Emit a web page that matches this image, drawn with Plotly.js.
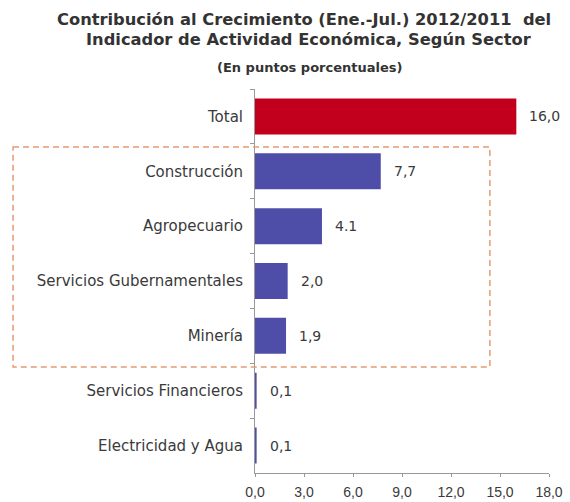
<!DOCTYPE html>
<html>
<head>
<meta charset="utf-8">
<script src="https://cdn.plot.ly/plotly-3.0.1.min.js"></script>
<style>html,body{margin:0;padding:0;background:#fff;}#chart{width:570px;height:502px;}</style>
</head>
<body>
<div id="chart"></div>
<script>
const categories = ["Total", "Construcción", "Agropecuario", "Servicios Gubernamentales", "Minería", "Servicios Financieros", "Electricidad y Agua"];
const values = [16.0, 7.7, 4.1, 2.0, 1.9, 0.1, 0.1];
const valueLabels = ["16,0", "7,7", "4.1", "2,0", "1,9", "0,1", "0,1"];
const barColors = ["#C2001E", "#4E4EA8", "#4E4EA8", "#4E4EA8", "#4E4EA8", "#4E4EA8", "#4E4EA8"];
const xTickVals = [0, 3, 6, 9, 12, 15, 18];
const xTickText = ["0,0", "3,0", "6,0", "9,0", "12,0", "15,0", "18,0"];
const titleLines = ["Contribución al Crecimiento (Ene.-Jul.) 2012/2011  del", "Indicador de Actividad Económica, Según Sector"];
const subtitle = "(En puntos porcentuales)";

const catFont = {family: "DejaVu Sans, sans-serif", size: 15, color: "#3a3a3a"};
const valFont = {family: "DejaVu Sans, sans-serif", size: 14, color: "#3a3a3a"};
const tickFont = {family: "Liberation Sans, Arial, sans-serif", size: 14, color: "#3a3a3a"};
const titleFont = {family: "DejaVu Sans, sans-serif", size: 16.3, color: "#333"};

const trace = {
  type: "bar",
  orientation: "h",
  y: categories,
  x: values,
  marker: {color: barColors},
  hoverinfo: "skip"
};

const valueAnnotations = categories.map((c, i) => ({
  x: values[i], y: c, xref: "x", yref: "y",
  text: valueLabels[i], showarrow: false,
  xanchor: "left", xshift: 11,
  font: valFont
}));

const titleAnnotations = [
  {text: "<b>" + titleLines[0] + "</b>", x: 0.168, y: 1.182, font: titleFont},
  {text: "<b>" + titleLines[1] + "</b>", x: 0.182, y: 1.130, font: titleFont},
  {text: "<b>" + subtitle + "</b>", x: 0.187, y: 1.055, font: {family: "DejaVu Sans, sans-serif", size: 13, color: "#333"}}
].map(a => Object.assign({xref: "paper", yref: "paper", xanchor: "center", yanchor: "middle", showarrow: false}, a));

const layout = {
  width: 570, height: 502,
  margin: {l: 255, r: 21, t: 89, b: 29},
  paper_bgcolor: "#fff", plot_bgcolor: "#fff",
  showlegend: false,
  bargap: 0.344,
  xaxis: {
    range: [0, 18], tickvals: xTickVals, ticktext: xTickText,
    showgrid: false, zeroline: false, showline: true, linecolor: "#999", linewidth: 1,
    ticks: "outside", ticklen: 3, tickcolor: "#999", ticklabelstandoff: 3,
    tickfont: tickFont, fixedrange: true
  },
  yaxis: {
    autorange: "reversed", type: "category",
    showgrid: false, zeroline: false, showline: true, linecolor: "#999", linewidth: 1,
    ticks: "outside", tickson: "boundaries", ticklen: 4, tickcolor: "#999",
    ticklabelstandoff: 8,
    tickfont: catFont, fixedrange: true
  },
  annotations: valueAnnotations.concat(titleAnnotations),
  shapes: [{
    type: "rect", xref: "paper", yref: "y",
    x0: -0.823, x1: 0.799, y0: 0.557, y1: 4.567,
    line: {color: "#E59A72", width: 1.5, dash: "6px,4px"},
    fillcolor: "rgba(0,0,0,0)", layer: "above"
  }]
};

Plotly.newPlot("chart", [trace], layout, {displayModeBar: false, staticPlot: true});
</script>
</body>
</html>
